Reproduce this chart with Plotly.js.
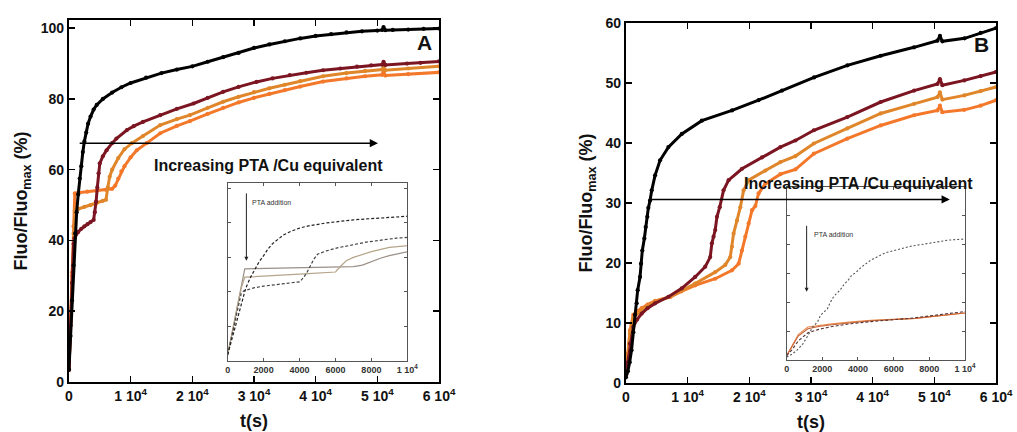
<!DOCTYPE html>
<html>
<head>
<meta charset="utf-8">
<script src="https://cdn.plot.ly/plotly-3.0.1.min.js"></script>
<style>html,body{margin:0;padding:0;background:#fff;}#chart{width:1017px;height:432px;}</style>
</head>
<body>
<div id="chart"></div>
<script>
// ---------- Panel A data ----------
const tBlackA = [0,250,500,750,1000,1250,1500,1750,2000,2250,2500,2800,3100,3500,4000,4500,5500,7000,8500,10000,12500,15000,17500,20000,22500,25000,27500,30000,32500,35000,37500,40000,42500,45000,47500,50000,50800,51000,51300,52500,55000,57500,60000];
const yBlackA = [3.5,13,23,33,42,48,53,57.5,61,65,68,70.5,73,75,77,78.3,80,81.8,83.3,84.5,86,87.3,88.3,89.2,90.5,91.8,93,94.4,95.4,96.3,97.1,97.8,98.3,98.8,99.1,99.3,99.5,100.3,99.4,99.5,99.6,99.8,99.9];

const tMaroonA = [0,250,500,750,900,1500,2000,2500,3000,3500,4000,4200,4400,4600,4800,5000,5500,6100,7000,7700,9400,10500,12000,14800,17500,20200,22500,25000,27500,30400,33000,35800,38500,41200,44000,46700,49000,50800,51000,51300,54800,57000,60000];
const yMaroonA = [3.5,16,28,39,40.6,42.4,43.3,44,44.6,45.2,45.8,48,51,55,59,61.8,63.8,65.5,67.5,68.8,71.2,72.3,73.5,75.4,77.2,78.7,80.3,82,83.4,84.8,85.8,86.7,87.4,88.1,88.6,89.1,89.5,89.7,90.5,89.6,90,90.2,90.6];

const tOrangeMidA = [0,250,500,750,950,1500,2500,3500,4500,5500,6000,6300,6600,7000,8000,9000,10200,12000,14800,17500,19600,22500,25000,27500,30000,32500,35000,37500,41200,45000,48000,50800,51000,51300,55000,60000];
const yOrangeMidA = [3.5,16,30,42,48.5,48.9,49.5,50,50.6,51.2,51.5,55,58,60,63.3,65.8,67.5,69.5,72.6,74.3,75.4,77.5,79.2,80.6,81.9,83,84,85,86.4,87.3,87.9,88.3,89,88.1,88.6,89.2];

const tOrangeLowA = [0,250,500,750,950,1500,3000,4500,6000,7000,7500,8000,8500,9000,10000,11000,12600,14800,17500,19600,22500,25000,27500,30000,32500,35000,37500,41200,45000,48000,50800,51000,51300,55000,60000];
const yOrangeLowA = [3.5,17,31,44,53.3,53.5,53.8,54,54.3,54.6,55.5,57.5,59.5,61,63.5,65.5,67.5,70.3,72.4,73.7,75.8,77.5,79,80.3,81.4,82.5,83.5,84.9,85.8,86.4,86.8,87.5,86.6,87,87.5];

// ---------- Panel B data ----------
const tBlackB = [0,300,600,900,1200,1460,1740,1900,2280,2440,2650,2980,3200,3460,3630,3900,4180,4720,5530,6880,9050,12300,17200,21500,25300,30500,35900,41300,46700,50500,50900,51300,54900,57500,60000];
const yBlackB = [1,2,3.5,5.5,8.5,11.4,13.3,15.5,17.7,19.9,22.1,24.1,26,27.7,29.2,30.4,32.1,34.6,37.1,39.3,41.5,43.7,45.4,47.1,48.7,50.9,52.9,54.5,55.9,57,57.8,56.9,57.4,58.3,59.1];

const tMaroonB = [0,300,650,1190,1800,2550,3500,4720,6880,9050,11220,12850,13660,13930,14200,14470,14750,15200,15820,16640,18810,22060,25040,27480,30460,35880,41300,46720,50500,50900,51300,54850,57500,60000];
const yMaroonB = [1.5,3.5,6.6,9.4,10.6,11.6,12.5,13.3,14.4,15.8,17.7,19.4,21,23.3,24.4,25.5,27.7,29.3,32.1,33.8,35.7,37.6,39.3,40.4,42.1,44.3,46.8,48.7,49.8,50.6,49.6,50.4,51.1,51.8];

const tOrangeMidB = [0,300,650,1190,1800,2550,3500,4720,7200,9000,11220,14470,16100,16910,17190,17450,18000,18540,19070,19890,22600,25040,27480,30460,35880,41300,46720,50500,50900,51300,54850,57500,60000];
const yOrangeMidB = [1.5,4.5,8.3,10.8,11.6,12.2,12.9,13.6,14.4,15.4,16.6,18.5,19.7,21,22.7,24.9,27.1,29.3,32.1,33.8,35.4,36.8,37.8,39.9,42.4,44.9,46.5,47.6,48.4,47.2,47.9,48.6,49.3];

const tOrangeLowB = [0,300,650,1190,1800,2550,3500,4720,7200,9000,11220,14470,17190,18270,18810,19350,19890,20440,20980,21500,22600,25040,27480,30460,35880,41300,46720,50500,50900,51300,54850,57500,60000];
const yOrangeLowB = [1.5,5,8.8,11.4,12,12.5,13.1,13.7,14.4,15.3,16.3,17.4,18.8,19.9,22.1,24.4,26.6,28.8,29.5,31.6,33.2,34.8,35.6,38.2,40.7,42.9,44.6,45.4,46.2,45.1,45.5,46.2,47.1];

// ---------- Tick labels ----------
const mainTickVals = [0,10000,20000,30000,40000,50000,60000];
const mainTickText = ['0','1 10<sup>4</sup>','2 10<sup>4</sup>','3 10<sup>4</sup>','4 10<sup>4</sup>','5 10<sup>4</sup>','6 10<sup>4</sup>'];
const insetTickVals = [0,2000,4000,6000,8000,10000];
const insetTickText = ['0','2000','4000','6000','8000','1 10<sup>4</sup>'];
const yTicksA = [0,20,40,60,80,100];
const yTicksB = [0,10,20,30,40,50,60];

const FONT = 'Liberation Sans, Arial, sans-serif';
const C_BLACK = '#000000', C_MAROON = '#7b1521', C_OMID = '#e0862a', C_OLOW = '#f4782a';

function mainTrace(t, y, color, xa, ya) {
  return {x: t, y: y, xaxis: xa, yaxis: ya, type: 'scatter', mode: 'lines+markers',
          line: {color: color, width: 3}, marker: {color: color, size: 4.2},
          showlegend: false, hoverinfo: 'skip'};
}
function insetTrace(t, y, color, dash, width, xa, ya) {
  return {x: t, y: y, xaxis: xa, yaxis: ya, type: 'scatter', mode: 'lines',
          line: {color: color, width: width, dash: dash}, showlegend: false, hoverinfo: 'skip'};
}

const data = [
  mainTrace(tOrangeLowA, yOrangeLowA, C_OLOW, 'x', 'y'),
  mainTrace(tOrangeMidA, yOrangeMidA, C_OMID, 'x', 'y'),
  mainTrace(tMaroonA, yMaroonA, C_MAROON, 'x', 'y'),
  mainTrace(tBlackA, yBlackA, C_BLACK, 'x', 'y'),
  mainTrace(tOrangeLowB, yOrangeLowB, C_OLOW, 'x2', 'y2'),
  mainTrace(tOrangeMidB, yOrangeMidB, C_OMID, 'x2', 'y2'),
  mainTrace(tMaroonB, yMaroonB, C_MAROON, 'x2', 'y2'),
  mainTrace(tBlackB, yBlackB, C_BLACK, 'x2', 'y2'),
  // inset A
  insetTrace(tOrangeLowA, yOrangeLowA, '#9a8f86', 'solid', 1.2, 'x3', 'y3'),
  insetTrace(tOrangeMidA, yOrangeMidA, '#b5a58a', 'solid', 1.2, 'x3', 'y3'),
  insetTrace(tMaroonA, yMaroonA, '#444444', '3px,2px', 1.2, 'x3', 'y3'),
  insetTrace(tBlackA, yBlackA, '#222222', '3px,2px', 1.2, 'x3', 'y3'),
  // inset B
  insetTrace(tOrangeLowB, yOrangeLowB, '#e8894a', 'solid', 1.1, 'x4', 'y4'),
  insetTrace(tOrangeMidB, yOrangeMidB, '#c8653a', 'solid', 1.1, 'x4', 'y4'),
  insetTrace(tMaroonB, yMaroonB, '#553333', '3px,2px', 1.1, 'x4', 'y4'),
  insetTrace(tBlackB, yBlackB, '#555555', '2px,2px', 1.1, 'x4', 'y4')
];

function mainX(domain, anchor) {
  return {domain: domain, anchor: anchor, range: [0, 60000], tickmode: 'array',
    tickvals: mainTickVals, ticktext: mainTickText, ticks: 'inside', ticklen: 6, tickwidth: 1.5,
    tickcolor: '#000', showline: true, linewidth: 2, linecolor: '#000', mirror: 'ticks',
    showgrid: false, zeroline: false, tickfont: {family: FONT, size: 14, weight: 'bold', color: '#111'},
    title: {text: 't(s)', font: {family: FONT, size: 18, weight: 'bold', color: '#111'}, standoff: 12}};
}
function mainY(domain, anchor, range, ticks) {
  return {domain: domain, anchor: anchor, range: range, tickmode: 'array', tickvals: ticks,
    ticks: 'inside', ticklen: 6, tickwidth: 1.5, tickcolor: '#000', showline: true, linewidth: 2,
    linecolor: '#000', mirror: 'ticks', showgrid: false, zeroline: false,
    tickfont: {family: FONT, size: 14, weight: 'bold', color: '#111'},
    title: {text: 'Fluo/Fluo<sub>max</sub> (%)', font: {family: FONT, size: 18, weight: 'bold', color: '#111'}, standoff: 8}};
}
function insetX(domain, anchor) {
  return {domain: domain, anchor: anchor, range: [0, 10000], tickmode: 'array',
    tickvals: insetTickVals, ticktext: insetTickText, ticks: 'inside', ticklen: 3, tickwidth: 1,
    tickcolor: '#555', showline: true, linewidth: 1, linecolor: '#555', mirror: 'ticks',
    showgrid: false, zeroline: false, tickfont: {family: FONT, size: 9, weight: 'bold', color: '#333'}};
}
function insetY(domain, anchor, range, ticks) {
  return {domain: domain, anchor: anchor, range: range, tickmode: 'array', tickvals: ticks,
    showticklabels: false, ticks: 'inside', ticklen: 3, tickwidth: 1, tickcolor: '#555',
    showline: true, linewidth: 1, linecolor: '#555', mirror: 'ticks', showgrid: false, zeroline: false};
}

const layout = {
  width: 1017, height: 432, margin: {l: 0, r: 0, t: 0, b: 0},
  paper_bgcolor: '#fff', plot_bgcolor: '#fff', showlegend: false,
  font: {family: FONT},
  xaxis: mainX([0.0678, 0.4317], 'y'),
  yaxis: mainY([0.1157, 0.9537], 'x', [0, 102.3], yTicksA),
  xaxis2: mainX([0.6155, 0.9794], 'y2'),
  yaxis2: mainY([0.1127, 0.9475], 'x2', [0, 60], yTicksB),
  xaxis3: insetX([0.2239, 0.4005], 'y3'),
  yaxis3: insetY([0.165, 0.5757], 'x3', [0, 103], yTicksA),
  xaxis4: insetX([0.7735, 0.9489], 'y4'),
  yaxis4: insetY([0.1667, 0.5678], 'x4', [0, 60], yTicksB),
  annotations: [
    {xref: 'x', yref: 'y', axref: 'x', ayref: 'y', x: 50100, y: 67.5, ax: 1500, ay: 67.5,
     text: '', showarrow: true, arrowhead: 2, arrowsize: 1.1, arrowwidth: 1.5, arrowcolor: '#000'},
    {xref: 'x', yref: 'y', x: 32300, y: 61.1, text: 'Increasing PTA /Cu equivalent', showarrow: false,
     font: {family: FONT, size: 16, weight: 'bold', color: '#111'}},
    {xref: 'x', yref: 'y', x: 57700, y: 96, text: 'A', showarrow: false,
     font: {family: FONT, size: 21, weight: 'bold', color: '#111'}},
    {xref: 'x2', yref: 'y2', axref: 'x2', ayref: 'y2', x: 52500, y: 30.6, ax: 3600, ay: 30.6,
     text: '', showarrow: true, arrowhead: 2, arrowsize: 1.1, arrowwidth: 1.5, arrowcolor: '#000'},
    {xref: 'x2', yref: 'y2', x: 37700, y: 33.2, text: 'Increasing PTA /Cu equivalent', showarrow: false,
     font: {family: FONT, size: 16, weight: 'bold', color: '#111'}},
    {xref: 'x2', yref: 'y2', x: 57700, y: 56.4, text: 'B', showarrow: false,
     font: {family: FONT, size: 21, weight: 'bold', color: '#111'}},
    {xref: 'x3', yref: 'y3', axref: 'x3', ayref: 'y3', x: 1040, y: 58, ax: 1040, ay: 98,
     text: '', showarrow: true, arrowhead: 2, arrowsize: 0.8, arrowwidth: 1, arrowcolor: '#222'},
    {xref: 'x3', yref: 'y3', x: 1250, y: 92, xanchor: 'left', text: 'PTA addition', showarrow: false,
     font: {family: FONT, size: 7, color: '#333'}},
    {xref: 'x4', yref: 'y4', axref: 'x4', ayref: 'y4', x: 1120, y: 23.6, ax: 1120, ay: 47,
     text: '', showarrow: true, arrowhead: 2, arrowsize: 0.8, arrowwidth: 1, arrowcolor: '#222'},
    {xref: 'x4', yref: 'y4', x: 1400, y: 43.3, xanchor: 'left', text: 'PTA addition', showarrow: false,
     font: {family: FONT, size: 7, color: '#333'}}
  ]
};

Plotly.newPlot('chart', data, layout, {staticPlot: true, displayModeBar: false});
</script>
</body>
</html>
